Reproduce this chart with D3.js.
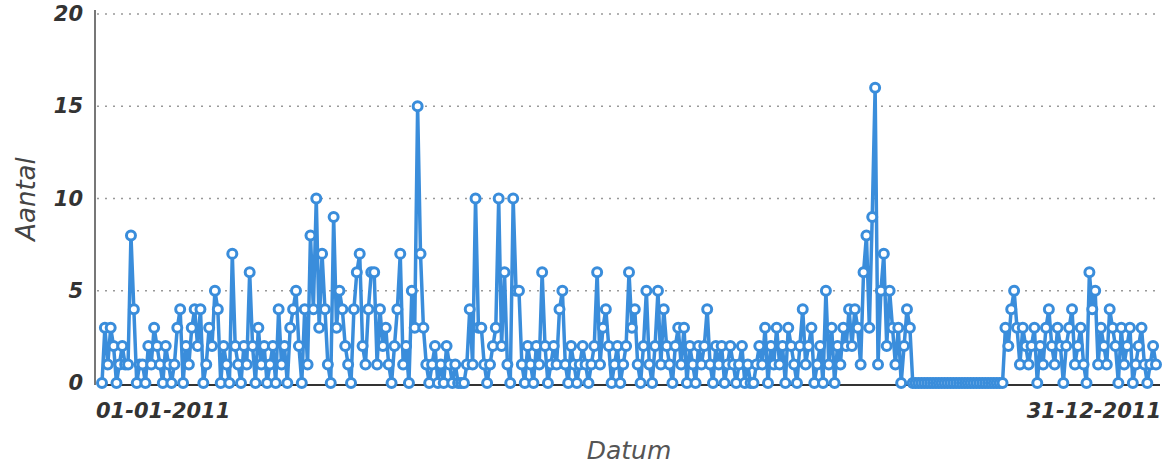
<!DOCTYPE html>
<html>
<head>
	<meta charset="utf-8">
	<title></title>
	<style>
		body { margin: 0; background: #fff; }
		text { font-family: "DejaVu Sans", sans-serif; }
	</style>
</head>
<body>
	<svg id="container" height="466" width="1169"></svg>
</body>
<script src="https://d3js.org/d3.v7.min.js"></script>
<script>
	// daily counts for 2011
	let startDate = "2011-01-01"
	let counts = [
		0,3,1,3,2,0,1,2,1,1,
		8,4,0,1,1,0,2,1,3,2,
		1,0,2,1,0,1,3,4,0,2,
		1,3,4,2,4,0,1,3,2,5,
		4,0,2,1,0,7,2,1,0,2,
		1,6,2,0,3,1,2,0,1,2,
		0,4,1,2,0,3,4,5,2,0,
		4,1,8,4,10,3,7,4,1,0,
		9,3,5,4,2,1,0,4,6,7,
		2,1,4,6,6,1,4,2,3,1,
		0,2,4,7,1,2,0,5,3,15,
		7,3,1,0,1,2,0,1,0,2,
		1,0,1,0,0,0,1,4,1,10,
		3,3,1,0,1,2,3,10,2,6,
		1,0,10,5,5,1,0,2,1,0,
		2,1,6,2,0,1,2,1,4,5,
		1,0,2,1,0,1,2,1,0,1,
		2,6,1,3,4,2,0,1,2,0,
		1,2,6,3,4,1,0,2,5,1,
		0,2,5,1,4,2,1,0,2,3,
		1,3,0,2,1,0,2,1,2,4,
		1,0,2,1,2,0,1,2,1,0,
		1,2,0,1,0,0,1,2,1,3,
		0,2,1,3,1,2,0,3,2,1,
		0,2,4,1,2,3,0,1,2,0,
		5,1,3,0,2,1,3,2,4,2,
		4,3,1,6,8,3,9,16,1,5,
		7,2,5,3,1,3,0,2,4,3,
		0,0,0,0,0,0,0,0,0,0,
		0,0,0,0,0,0,0,0,0,0,
		0,0,0,0,0,0,0,0,0,0,
		0,0,3,2,4,5,3,1,3,2,
		1,2,3,0,2,1,3,4,2,1,
		3,2,0,2,3,4,1,2,3,1,
		0,6,4,5,1,3,2,1,4,3,
		2,0,3,1,2,3,0,1,2,3,
		1,0,1,2,1
	]
	let yTicks = [0, 5, 10, 15, 20]
	let xTickLabels = ["01-01-2011", "31-12-2011"]
	let yLabel = "Aantal"
	let xLabel = "Datum"

	let parse = d3.timeParse("%Y-%m-%d")
	let t0 = parse(startDate)
	let data = counts.map((v, i) => ({ date: d3.timeDay.offset(t0, i), value: v }))

	let svg = d3.select("#container")
	let plotLeft = 97, plotRight = 1160, plotTop = 14, plotBottom = 383

	let x = d3.scaleTime()
		.domain(d3.extent(data, d => d.date))
		.range([plotLeft + 5, plotRight - 4])
	let y = d3.scaleLinear()
		.domain([0, 20])
		.range([plotBottom, plotTop])

	// dotted grid
	svg.append("g").selectAll("line")
		.data(yTicks.filter(d => d > 0))
		.enter().append("line")
		.attr("x1", plotLeft).attr("x2", plotRight)
		.attr("y1", d => y(d)).attr("y2", d => y(d))
		.attr("stroke", "#999")
		.attr("stroke-width", 1.5)
		.attr("stroke-dasharray", "2,6")

	// axis lines
	svg.append("line")
		.attr("x1", plotLeft - 2).attr("x2", plotLeft - 2)
		.attr("y1", plotTop - 4).attr("y2", plotBottom + 2)
		.attr("stroke", "#777").attr("stroke-width", 2)
	svg.append("line")
		.attr("x1", plotLeft).attr("x2", plotRight)
		.attr("y1", plotBottom + 2).attr("y2", plotBottom + 2)
		.attr("stroke", "#333").attr("stroke-width", 2)

	// y tick labels via axis
	let yAxis = svg.append("g")
		.attr("transform", `translate(${plotLeft - 14},0)`)
		.call(d3.axisLeft(y).tickValues(yTicks).tickSize(0).tickPadding(0))
	yAxis.select(".domain").remove()
	yAxis.selectAll("text")
		.attr("font-family", "DejaVu Sans")
		.attr("font-size", 21)
		.attr("font-weight", "bold")
		.attr("font-style", "italic")
		.attr("fill", "#333")

	// x tick labels (first and last day)
	svg.append("g").selectAll("text")
		.data([data[0], data[data.length - 1]])
		.enter().append("text")
		.attr("x", (d, i) => i == 0 ? x(d.date) - 6 : x(d.date) + 5)
		.attr("y", 418)
		.attr("text-anchor", (d, i) => i == 0 ? "start" : "end")
		.attr("font-size", 21)
		.attr("font-weight", "bold")
		.attr("font-style", "italic")
		.attr("fill", "#333")
		.text((d, i) => xTickLabels[i])

	// axis titles
	svg.append("text")
		.attr("transform", "translate(35,199) rotate(-90)")
		.attr("text-anchor", "middle")
		.attr("font-size", 26)
		.attr("font-style", "italic")
		.attr("fill", "#444")
		.text(yLabel)
	svg.append("text")
		.attr("x", 629).attr("y", 459)
		.attr("text-anchor", "middle")
		.attr("font-size", 25)
		.attr("font-style", "italic")
		.attr("fill", "#555")
		.text(xLabel)

	// the series
	let line = d3.line()
		.x(d => x(d.date))
		.y(d => y(d.value))
	svg.append("path")
		.datum(data)
		.attr("d", line)
		.attr("fill", "none")
		.attr("stroke", "#3a8ddb")
		.attr("stroke-width", 3.5)
		.attr("stroke-linejoin", "round")

	svg.append("g").selectAll("circle")
		.data(data)
		.enter().append("circle")
		.attr("cx", d => x(d.date))
		.attr("cy", d => y(d.value))
		.attr("r", 4.5)
		.attr("fill", "#fff")
		.attr("stroke", "#3a8ddb")
		.attr("stroke-width", 3)
</script>
</html>
